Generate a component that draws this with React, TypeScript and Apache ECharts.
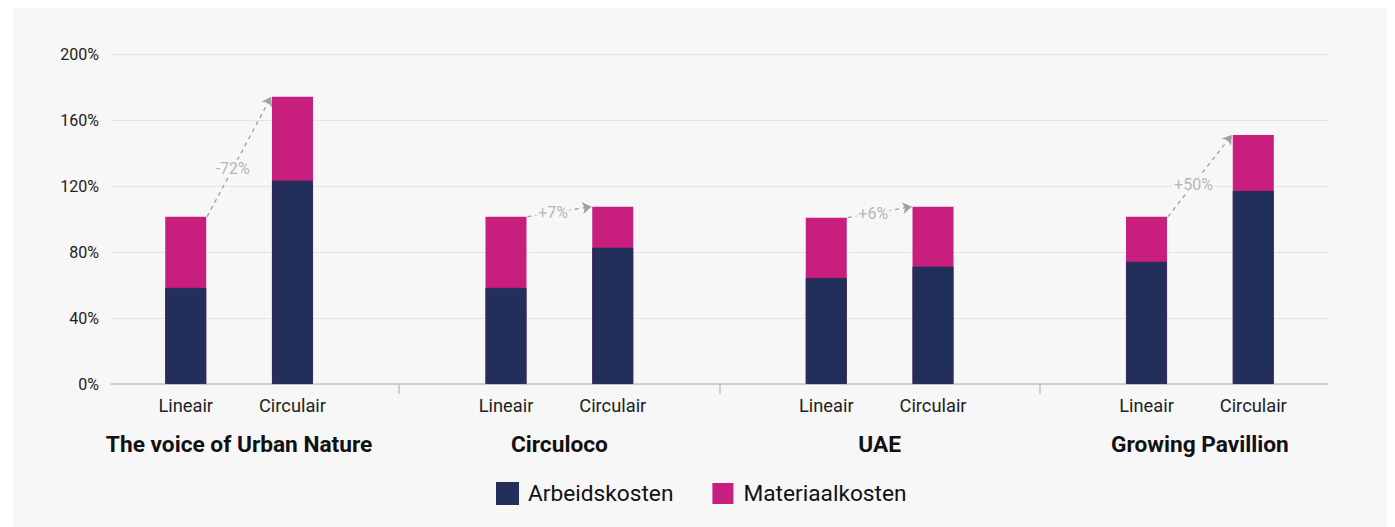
import React, { useEffect, useRef } from "react";
import * as echarts from "echarts";

const groups = ["The voice of Urban Nature", "Circuloco", "UAE", "Growing Pavillion"];
const barTypes = ["Lineair", "Circulair"];
const barPositions = [0, 1, 3, 4, 6, 7, 9, 10];
const groupSeparators = [2, 5, 8];
const arbeidskosten = [58.2, 123.2, 58.2, 82.6, 64.2, 71.1, 74.1, 117.0];
const materiaalkosten = [43.2, 50.9, 43.2, 24.9, 36.6, 36.4, 27.3, 33.9];
const changeLabels = ["-72%", "+7%", "+6%", "+50%"];
const seriesNames = ["Arbeidskosten", "Materiaalkosten"];
const yMin = 0;
const yMax = 200;
const yInterval = 40;

const NAVY = "#232f5b";
const MAGENTA = "#c81e7e";
const ARROW = "#9aa0a6";
const BG = "#f7f7f7";

export default function App() {
  const ref = useRef<HTMLDivElement>(null);

  useEffect(() => {
    if (!ref.current) return;
    const chart = echarts.init(ref.current, undefined, { renderer: "svg" });

    // Materiaalkosten sits on top of Arbeidskosten: its bar reaches the stacked total
    const totals = arbeidskosten.map((v, i) => v + materiaalkosten[i]);
    const groupCenters = groups.map((_, g) => (barPositions[2 * g] + barPositions[2 * g + 1]) / 2);
    const edge = 0.2;
    const arrows = groups.map((_, g) => {
      const a = 2 * g;
      const b = 2 * g + 1;
      return {
        coords: [
          [barPositions[a] + edge, totals[a]],
          [barPositions[b] - edge, totals[b]],
        ],
      };
    });
    const t = 0.4;
    const labelPoints = groups.map((_, g) => {
      const [p0, p1] = arrows[g].coords;
      return {
        name: changeLabels[g],
        value: [p0[0] + (p1[0] - p0[0]) * t, p0[1] + (p1[1] - p0[1]) * t],
      };
    });

    const xMin = barPositions[0] - 0.7;
    const xMax = barPositions[barPositions.length - 1] + 0.7;

    chart.setOption({
      animation: false,
      backgroundColor: BG,
      textStyle: { fontFamily: "Roboto" },
      grid: { left: 98, right: 67, top: 46, bottom: 143, containLabel: false },
      legend: {
        data: seriesNames,
        top: 469,
        left: 478,
        itemWidth: 21,
        itemHeight: 21,
        itemGap: 39,
        icon: "rect",
        textStyle: { fontSize: 22.7, color: "#111", fontFamily: "Roboto", padding: [0, 0, 0, 5] },
      },
      xAxis: [
        {
          type: "value",
          min: xMin,
          max: xMax,
          position: "bottom",
          splitLine: { show: false },
          axisLine: { show: true, lineStyle: { color: "#c2c6cb", width: 1.5 } },
          axisTick: {
            show: true,
            customValues: groupSeparators,
            length: 10,
            lineStyle: { color: "#c2c6cb", width: 1.5 },
          },
          axisLabel: {
            customValues: barPositions,
            formatter: (v: number) => {
              const i = barPositions.indexOf(Math.round(v));
              return i >= 0 ? barTypes[i % 2] : "";
            },
            fontSize: 18.3,
            color: "#222",
            margin: 12,
            fontFamily: "Roboto",
          },
        },
        {
          type: "value",
          min: xMin,
          max: xMax,
          position: "bottom",
          splitLine: { show: false },
          axisLine: { show: false },
          axisTick: { show: false },
          axisLabel: {
            customValues: groupCenters,
            formatter: (v: number) => {
              const g = groupCenters.findIndex((c) => Math.abs(c - v) < 0.01);
              return g >= 0 ? groups[g] : "";
            },
            fontSize: 22.7,
            fontWeight: "bold",
            color: "#111",
            margin: 49,
            fontFamily: "Roboto",
          },
        },
      ],
      yAxis: {
        type: "value",
        min: yMin,
        max: yMax,
        interval: yInterval,
        axisLine: { show: false },
        axisTick: { show: false },
        splitLine: { lineStyle: { color: "#e5e5e5", width: 1 } },
        axisLabel: {
          formatter: "{value}%",
          fontSize: 16,
          color: "#222",
          margin: 12,
          fontFamily: "Roboto",
        },
      },
      series: [
        {
          name: seriesNames[1],
          type: "bar",
          barWidth: 41,
          barGap: "-100%",
          xAxisIndex: 0,
          z: 2,
          itemStyle: { color: MAGENTA },
          data: barPositions.map((x, i) => [x, totals[i]]),
        },
        {
          name: seriesNames[0],
          type: "bar",
          barWidth: 41,
          barGap: "-100%",
          xAxisIndex: 0,
          z: 3,
          itemStyle: { color: NAVY, borderColor: NAVY, borderWidth: 0.8 },
          data: barPositions.map((x, i) => [x, arbeidskosten[i]]),
        },
        {
          type: "lines",
          coordinateSystem: "cartesian2d",
          xAxisIndex: 0,
          yAxisIndex: 0,
          symbol: ["none", "arrow"],
          symbolSize: 9,
          lineStyle: { color: ARROW, type: [4, 4], width: 1.3, opacity: 1 },
          data: arrows,
          z: 4,
        },
        {
          type: "scatter",
          xAxisIndex: 0,
          yAxisIndex: 0,
          symbolSize: 0,
          data: labelPoints,
          z: 5,
          label: {
            show: true,
            position: "inside",
            formatter: (p: any) => p.name,
            fontSize: 16,
            color: "#a0a5ab",
            backgroundColor: BG,
            padding: [1, 2],
            fontFamily: "Roboto",
          },
        },
      ],
    });

    return () => chart.dispose();
  }, []);

  return (
    <div ref={ref} style={{ marginLeft: 5, width: 1382, height: 519 }} />
  );
}
